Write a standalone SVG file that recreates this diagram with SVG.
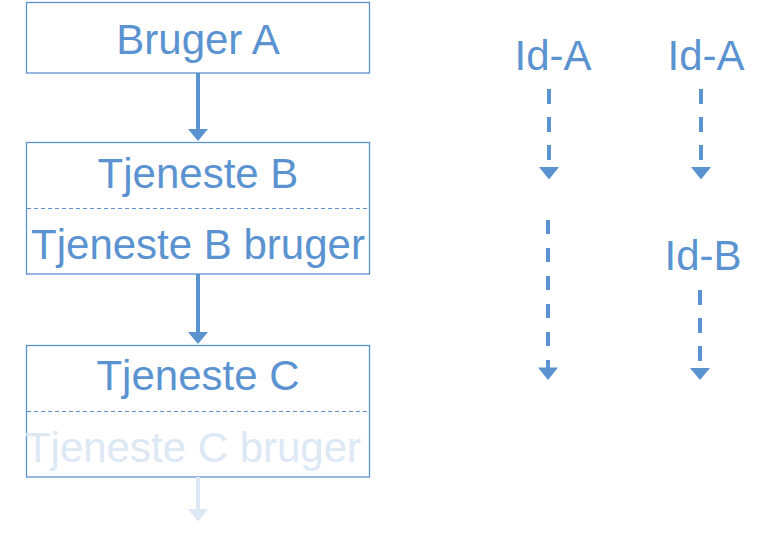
<svg xmlns="http://www.w3.org/2000/svg" width="768" height="537" viewBox="0 0 768 537">
<style>
.box{fill:#fff;stroke:#5b93d1;stroke-width:1.3}
.div{stroke:#5b93d1;stroke-width:1;stroke-dasharray:4 3;fill:none}
.t{font-family:"Liberation Sans",Arial,sans-serif;font-size:42px;fill:#5b93d1;text-anchor:middle}
.faded{fill:#dde8f5}
.solid{stroke:#5b93d1;stroke-width:4;fill:none}
.fsolid{stroke:#dde8f5;stroke-width:4;fill:none}
.dash{stroke:#5b93d1;stroke-width:4;fill:none;stroke-dasharray:15 13}
.head{fill:#5b93d1}
.fhead{fill:#dde8f5}
</style>
<rect width="768" height="537" fill="#fff"/>
<g id="bruger-a">
<rect class="box" x="26.5" y="2.5" width="343" height="70.5"/>
<text class="t" x="198" y="54">Bruger A</text>
</g>
<g id="tjeneste-b">
<rect class="box" x="26.5" y="142.5" width="343" height="131.5"/>
<line class="div" x1="27" y1="208.5" x2="368" y2="208.5"/>
<text class="t" x="198" y="188">Tjeneste B</text>
<text class="t" x="198" y="259">Tjeneste B bruger</text>
</g>
<g id="tjeneste-c">
<rect class="box" x="26.5" y="345.5" width="343" height="131.5"/>
<line class="div" x1="27" y1="411.5" x2="368" y2="411.5"/>
<text class="t" x="198" y="390">Tjeneste C</text>
<text class="t faded" x="193" y="462">Tjeneste C bruger</text>
</g>
<g id="ids">
<text class="t" x="553" y="70">Id-A</text>
<text class="t" x="706" y="70">Id-A</text>
<text class="t" x="703" y="270">Id-B</text>
</g>
<g id="connectors">
<line class="solid" x1="198" y1="73" x2="198" y2="130"/>
<polygon class="head" points="188,129 208,129 198,141"/>
<line class="solid" x1="198" y1="274" x2="198" y2="333"/>
<polygon class="head" points="188,332 208,332 198,344"/>
<line class="fsolid" x1="198" y1="477" x2="198" y2="510"/>
<polygon class="fhead" points="188,509 208,509 198,521.5"/>
<line class="dash" x1="549" y1="89" x2="549" y2="161"/>
<polygon class="head" points="539,167 559,167 549,179.5"/>
<line class="dash" x1="701" y1="89" x2="701" y2="161"/>
<polygon class="head" points="691,167 711,167 701,179.5"/>
<line class="dash" x1="548" y1="220" x2="548" y2="369" style="stroke-dasharray:14 14"/>
<polygon class="head" points="538,367.5 558,367.5 548,380"/>
<line class="dash" x1="700" y1="290" x2="700" y2="362"/>
<polygon class="head" points="690,368 710,368 700,380"/>
</g>
</svg>
